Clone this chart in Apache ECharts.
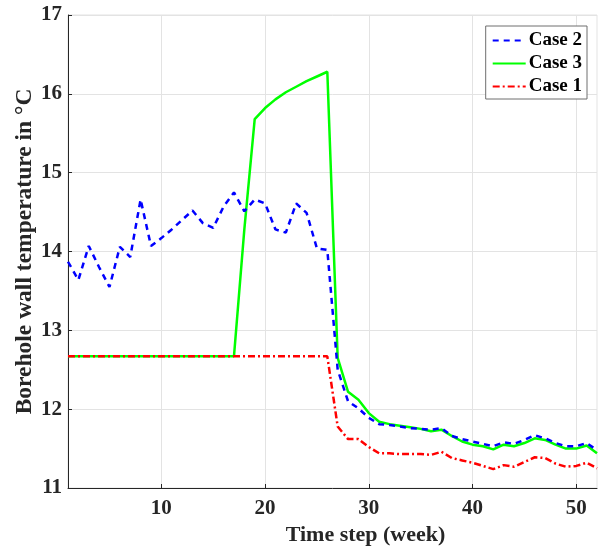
<!DOCTYPE html>
<html>
<head>
<meta charset="utf-8">
<script src="https://cdn.jsdelivr.net/npm/echarts@6/dist/echarts.min.js"></script>
<style>html,body{margin:0;padding:0;background:#fff}#c{width:599px;height:551px}</style>
</head>
<body>
<div id="c"></div>
<script>
var weeks = [1,2,3,4,5,6,7,8,9,10,11,12,13,14,15,16,17,18,19,20,21,22,23,24,25,26,27,28,29,30,31,32,33,34,35,36,37,38,39,40,41,42,43,44,45,46,47,48,49,50,51,52];
var case2 = [13.87,13.64,14.07,13.80,13.55,14.06,13.93,14.66,14.07,14.17,14.28,14.40,14.52,14.36,14.30,14.57,14.75,14.51,14.66,14.61,14.28,14.24,14.61,14.49,14.04,14.02,12.50,12.10,12.01,11.89,11.81,11.80,11.78,11.76,11.75,11.74,11.76,11.66,11.62,11.59,11.56,11.53,11.58,11.56,11.61,11.67,11.63,11.57,11.53,11.53,11.57,11.48];
var case3 = [12.67,12.67,12.67,12.67,12.67,12.67,12.67,12.67,12.67,12.67,12.67,12.67,12.67,12.67,12.67,12.67,12.67,14.28,15.68,15.82,15.93,16.02,16.09,16.16,16.22,16.28,12.65,12.22,12.12,11.95,11.84,11.81,11.79,11.77,11.75,11.72,11.74,11.66,11.59,11.55,11.53,11.49,11.55,11.53,11.57,11.63,11.61,11.55,11.50,11.50,11.54,11.44];
var case1 = [12.67,12.67,12.67,12.67,12.67,12.67,12.67,12.67,12.67,12.67,12.67,12.67,12.67,12.67,12.67,12.67,12.67,12.67,12.67,12.67,12.67,12.67,12.67,12.67,12.67,12.67,11.78,11.62,11.62,11.52,11.44,11.44,11.43,11.43,11.43,11.42,11.46,11.38,11.35,11.32,11.28,11.24,11.29,11.27,11.33,11.39,11.38,11.31,11.27,11.28,11.32,11.25];
var xTicks = [10,20,30,40,50];
var seriesNames = ['Case 2','Case 3','Case 1'];

function pairs(vals){ return weeks.map(function(w,i){ return [w, vals[i]]; }); }

var font = 'Liberation Serif';
var chart = echarts.init(document.getElementById('c'), null, {renderer:'canvas'});
chart.setOption({
  animation: false,
  backgroundColor: '#fff',
  grid: {left: 68, top: 15, width: 529, height: 473, show: true, borderColor: '#e3e3e3', borderWidth: 1, backgroundColor: 'transparent'},
  legend: {
    data: seriesNames,
    orient: 'vertical',
    right: 12, top: 26,
    padding: [4,5,2,6],
    itemWidth: 33, itemHeight: 14, itemGap: 2,
    backgroundColor: '#fff',
    borderColor: '#6e6e6e', borderWidth: 1,
    itemStyle: {opacity: 0, color: 'rgba(0,0,0,0)', borderWidth: 0},
    textStyle: {fontFamily: font, fontWeight: 'bold', fontSize: 19, color: '#000', lineHeight: 21, padding: [0,0,0,-2]}
  },
  xAxis: {
    type: 'value', min: 1, max: 52,
    name: 'Time step (week)', nameLocation: 'middle', nameGap: 35,
    nameTextStyle: {fontFamily: font, fontWeight: 'bold', fontSize: 22, color: '#262626', padding: [0,0,0,66]},
    axisLine: {show: true, lineStyle: {color: '#262626', width: 1}},
    axisTick: {show: true, inside: true, length: 4, customValues: xTicks, lineStyle: {color: '#262626'}},
    axisLabel: {customValues: xTicks, fontFamily: font, fontWeight: 'bold', fontSize: 21, color: '#262626', margin: 10},
    splitLine: {show: true, lineStyle: {color: '#e3e3e3', width: 1}}
  },
  yAxis: {
    type: 'value', min: 11, max: 17, interval: 1,
    name: 'Borehole wall temperature in °C', nameLocation: 'middle', nameGap: 31, nameMoveOverlap: false,
    nameTextStyle: {fontFamily: font, fontWeight: 'bold', fontSize: 23.5, color: '#262626'},
    axisLine: {show: true, lineStyle: {color: '#262626', width: 1}},
    axisTick: {show: true, inside: true, length: 4, lineStyle: {color: '#262626'}},
    axisLabel: {fontFamily: font, fontWeight: 'bold', fontSize: 21, color: '#262626', margin: 6},
    splitLine: {show: true, lineStyle: {color: '#e3e3e3', width: 1}}
  },
  series: [
    {name: 'Case 2', type: 'line', data: pairs(case2), symbol: 'none', z: 4,
     lineStyle: {color: '#0000ff', width: 2.5, type: [6,5]}, itemStyle: {color: '#0000ff'}},
    {name: 'Case 3', type: 'line', data: pairs(case3), symbol: 'none', z: 2,
     lineStyle: {color: '#00ff00', width: 2.5, type: 'solid'}, itemStyle: {color: '#00ff00'}},
    {name: 'Case 1', type: 'line', data: pairs(case1), symbol: 'none', z: 3,
     lineStyle: {color: '#ff0000', width: 2.5, type: [7,3,2,3]}, itemStyle: {color: '#ff0000'}}
  ]
});
</script>
</body>
</html>
